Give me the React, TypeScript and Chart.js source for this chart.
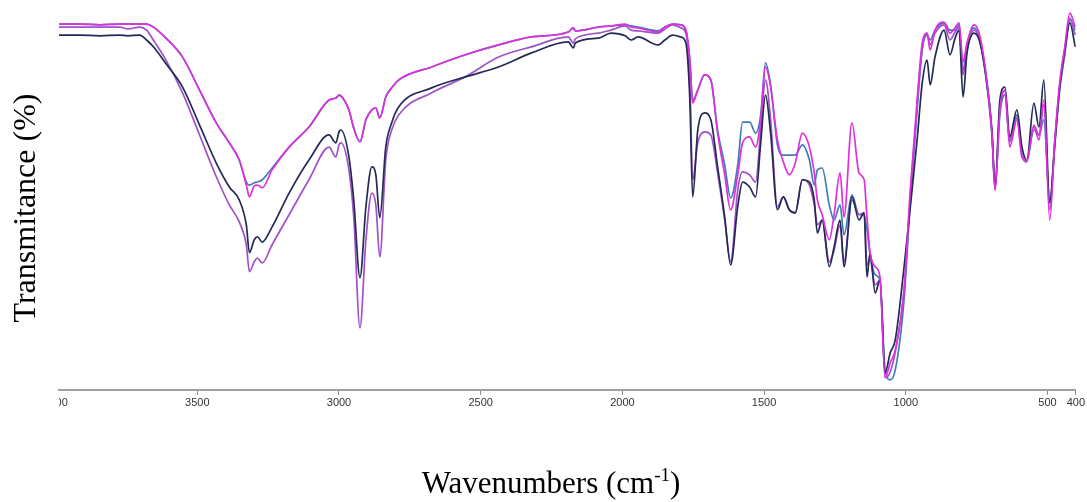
import React, { useEffect, useRef } from "react";
import { Chart, registerables } from "chart.js";

Chart.register(...registerables);

const wavenumbers = [
  3988, 3914, 3844, 3774, 3745, 3703, 3679, 3651, 3615, 3552,
  3492, 3433, 3387, 3352, 3327, 3316, 3299, 3288, 3271, 3236,
  3176, 3106, 3035, 3011, 3000, 2993, 2965, 2948, 2926, 2905,
  2884, 2870, 2856, 2835, 2814, 2789, 2673, 2554, 2437, 2321,
  2191, 2173, 2166, 2085, 2040, 1990, 1969, 1945, 1874, 1850,
  1822, 1794, 1776, 1762, 1752, 1734, 1710, 1688, 1664, 1639,
  1618, 1593, 1576, 1551, 1530, 1512, 1495, 1477, 1453, 1432,
  1411, 1390, 1365, 1340, 1323, 1312, 1295, 1270, 1253, 1232,
  1218, 1190, 1165, 1147, 1137, 1126, 1108, 1091, 1073, 1055,
  1037, 1006, 985, 960, 942, 925, 914, 897, 865, 844,
  826, 812, 798, 784, 759, 741, 720, 696, 685, 668,
  650, 633, 608, 590, 573, 548, 530, 513, 492, 474,
  457, 439, 421, 402,
];

const magentaT = [
  96.3, 96.3, 96.1, 96.3, 96.3, 96.3, 96.3, 95.3, 92.9, 87.6,
  78.9, 70.3, 65.0, 60.5, 53.9, 50.8, 53.7, 53.9, 53.2, 57.9,
  63.9, 69.2, 76.3, 76.8, 77.6, 77.4, 73.7, 68.9, 65.3, 71.1,
  73.7, 74.2, 71.6, 77.1, 79.5, 81.6, 85.0, 88.2, 90.8, 92.9,
  94.2, 95.3, 94.5, 95.5, 95.8, 96.3, 95.5, 95.3, 94.2, 95.5,
  96.3, 96.1, 94.7, 86.8, 75.5, 78.9, 82.9, 81.6, 67.6, 56.6,
  47.4, 56.6, 65.0, 66.6, 63.9, 71.1, 85.0, 79.7, 65.8, 60.0,
  56.6, 59.7, 67.6, 63.9, 57.1, 50.0, 46.1, 39.5, 46.1, 57.1,
  45.5, 70.3, 57.1, 55.3, 45.5, 36.1, 32.4, 29.7, 3.2, 7.1,
  10.5, 26.3, 51.8, 76.3, 91.3, 93.9, 89.5, 94.7, 96.8, 93.9,
  95.3, 96.6, 86.3, 91.3, 96.1, 93.9, 85.0, 67.6, 52.6, 73.7,
  78.9, 63.9, 71.1, 61.3, 60.5, 69.2, 65.8, 76.3, 44.7, 65.8,
  80.8, 90.3, 99.2, 95.5,
];

const blueT = [
  96.3, 96.3, 96.1, 96.3, 96.3, 96.3, 96.3, 95.3, 92.9, 87.6,
  78.9, 70.3, 65.0, 60.5, 54.7, 53.9, 54.5, 54.7, 55.3, 58.4,
  63.9, 69.2, 76.3, 76.8, 77.6, 77.4, 73.7, 68.9, 65.3, 71.1,
  73.7, 74.2, 71.6, 77.1, 79.5, 81.6, 85.0, 88.2, 90.8, 92.9,
  94.2, 95.3, 94.5, 95.5, 95.8, 96.1, 95.8, 95.5, 94.5, 95.5,
  96.3, 96.1, 94.7, 86.8, 76.3, 78.9, 82.9, 81.6, 68.4, 59.2,
  50.5, 59.2, 70.5, 70.5, 67.6, 72.4, 86.1, 80.3, 64.5, 61.8,
  61.8, 61.8, 64.5, 60.5, 53.9, 57.9, 58.4, 48.7, 44.7, 48.7,
  40.8, 51.3, 46.1, 46.1, 42.1, 35.5, 30.3, 28.9, 5.3, 2.6,
  5.3, 23.7, 48.7, 73.7, 89.5, 93.4, 92.1, 94.7, 96.6, 94.7,
  94.7, 96.1, 84.2, 90.8, 95.3, 92.6, 83.7, 67.1, 53.2, 72.4,
  77.6, 65.8, 72.4, 61.8, 60.5, 68.4, 67.1, 71.1, 50.0, 64.5,
  78.9, 88.2, 97.4, 94.7,
];

const navyT = [
  93.4, 93.4, 93.2, 93.4, 93.2, 93.4, 92.1, 90.0, 86.3, 79.7,
  69.7, 59.7, 53.4, 50.0, 43.4, 36.1, 39.5, 40.3, 38.9, 42.9,
  51.8, 60.5, 67.1, 65.0, 67.9, 68.4, 61.3, 50.0, 29.5, 48.2,
  58.7, 56.6, 45.3, 63.9, 70.3, 74.5, 79.5, 82.4, 85.0, 88.7,
  91.6, 90.0, 91.3, 92.6, 93.9, 93.2, 92.1, 92.9, 90.8, 92.1,
  93.4, 92.9, 91.3, 76.3, 50.8, 68.4, 72.9, 71.1, 58.7, 45.5,
  32.9, 48.2, 54.7, 53.4, 50.8, 65.0, 77.6, 67.6, 47.4, 50.8,
  47.4, 46.6, 55.3, 54.7, 50.0, 41.3, 44.7, 32.4, 37.6, 44.7,
  32.4, 50.8, 44.7, 46.6, 29.7, 36.1, 25.5, 28.9, 4.5, 9.7,
  13.2, 32.4, 47.4, 65.8, 80.8, 86.8, 80.3, 87.6, 94.7, 88.2,
  92.6, 94.7, 77.1, 88.7, 93.9, 92.1, 84.2, 68.4, 53.4, 76.3,
  79.7, 66.6, 73.7, 63.9, 60.5, 75.5, 69.2, 81.6, 49.2, 65.0,
  79.7, 89.5, 96.6, 90.3,
];

const purpleT = [
  95.5, 95.5, 95.5, 95.5, 95.0, 95.5, 94.7, 91.6, 87.4, 78.2,
  67.1, 56.1, 48.7, 44.2, 38.2, 31.1, 33.7, 34.7, 33.4, 38.2,
  46.1, 55.3, 63.9, 61.3, 64.5, 65.0, 57.9, 45.5, 16.3, 39.5,
  51.8, 48.7, 35.0, 60.5, 68.4, 72.4, 78.2, 82.4, 87.6, 90.3,
  92.9, 91.3, 92.4, 93.9, 94.7, 95.8, 94.7, 94.5, 93.9, 95.0,
  96.1, 95.3, 93.9, 81.6, 55.3, 65.0, 67.9, 67.1, 57.1, 44.7,
  33.7, 52.6, 57.4, 56.6, 54.7, 68.4, 81.6, 71.1, 48.2, 50.8,
  47.4, 46.6, 55.3, 53.9, 48.7, 43.4, 44.7, 33.7, 36.8, 43.4,
  33.7, 50.0, 46.1, 46.6, 32.9, 34.2, 27.6, 28.9, 3.2, 4.7,
  10.0, 26.3, 50.0, 75.0, 90.0, 93.9, 90.8, 93.9, 96.1, 92.1,
  94.2, 95.5, 82.9, 89.5, 94.7, 92.6, 84.2, 67.6, 52.6, 74.2,
  77.6, 65.3, 71.6, 61.8, 60.0, 69.7, 67.1, 75.0, 47.4, 65.8,
  79.5, 88.9, 97.9, 93.4,
];

const tickValues = [3500, 3000, 2500, 2000, 1500, 1000, 500, 400];
const clippedTick = 4000;

const xTitleMain = "Wavenumbers (cm";
const xTitleSup = "-1";
const xTitleEnd = ")";
const yTitle = "Transmitance (%)";

const series = [
  { label: "Sample 1", values: magentaT, color: "#de30de" },
  { label: "Sample 2", values: navyT, color: "#232a55" },
  { label: "Sample 3", values: purpleT, color: "#a052c8" },
  { label: "Sample 4", values: blueT, color: "#3f7db8" },
];

const tickFont = "'Liberation Sans Narrow', 'Liberation Sans', Arial, sans-serif";
const serif = "'Liberation Serif', 'Times New Roman', serif";

const titlesPlugin = {
  id: "titles",
  afterDraw(chart: any) {
    const ctx = chart.ctx as CanvasRenderingContext2D;
    const xs = chart.scales.x;
    const area = chart.chartArea;
    // first tick label, clipped at the left edge of the axis
    ctx.save();
    ctx.beginPath();
    ctx.rect(area.left, area.bottom, 200, 30);
    ctx.clip();
    ctx.font = `11px ${tickFont}`;
    ctx.fillStyle = "#333";
    ctx.textAlign = "center";
    ctx.textBaseline = "middle";
    ctx.fillText(String(clippedTick), xs.getPixelForValue(clippedTick), 403);
    ctx.restore();

    // y title
    ctx.save();
    ctx.fillStyle = "#000";
    ctx.font = `32px ${serif}`;
    ctx.translate(35, 208);
    ctx.rotate(-Math.PI / 2);
    ctx.textAlign = "center";
    ctx.textBaseline = "alphabetic";
    ctx.fillText(yTitle, 0, 0);
    ctx.restore();

    // x title with superscript
    ctx.save();
    ctx.fillStyle = "#000";
    ctx.textAlign = "left";
    ctx.textBaseline = "alphabetic";
    const mainFont = `31px ${serif}`;
    const supFont = `19px ${serif}`;
    ctx.font = mainFont;
    const w1 = ctx.measureText(xTitleMain).width;
    const w3 = ctx.measureText(xTitleEnd).width;
    ctx.font = supFont;
    const w2 = ctx.measureText(xTitleSup).width;
    const total = w1 + w2 + w3;
    let x = 551 - total / 2;
    const base = 493;
    ctx.font = mainFont;
    ctx.fillText(xTitleMain, x, base);
    x += w1;
    ctx.font = supFont;
    ctx.fillText(xTitleSup, x, base - 12);
    x += w2;
    ctx.font = mainFont;
    ctx.fillText(xTitleEnd, x, base);
    ctx.restore();
  },
};

export default function App() {
  const ref = useRef<HTMLCanvasElement | null>(null);

  useEffect(() => {
    if (!ref.current) return;
    const chart = new Chart(ref.current, {
      type: "line",
      data: {
        datasets: series.map((s) => ({
          label: s.label,
          data: wavenumbers.map((w, i) => ({ x: w, y: s.values[i] })),
          borderColor: s.color,
          backgroundColor: s.color,
          borderWidth: 1.7,
          pointRadius: 0,
          fill: false,
          cubicInterpolationMode: "monotone" as const,
        })),
      },
      options: {
        responsive: false,
        animation: false,
        events: [],
        layout: { padding: { left: 59, right: 11, top: 10, bottom: 90 } },
        plugins: {
          legend: { display: false },
          tooltip: { enabled: false },
          title: { display: false },
        },
        scales: {
          x: {
            type: "linear",
            reverse: true,
            min: 400,
            max: 3988,
            afterBuildTicks: (scale: any) => {
              scale.ticks = tickValues.map((v) => ({ value: v }));
            },
            ticks: {
              autoSkip: false,
              maxRotation: 0,
              padding: 2,
              color: "#333",
              font: { size: 11, family: tickFont },
              callback: (v: any) => String(v),
            },
            grid: {
              drawOnChartArea: false,
              drawTicks: true,
              tickLength: 5,
              color: "#888",
              lineWidth: 1,
            },
            border: { display: true, color: "#a0a0a0", width: 2 },
          },
          y: {
            display: false,
            min: 0,
            max: 100,
          },
        },
      },
      plugins: [titlesPlugin],
    });
    return () => chart.destroy();
  }, []);

  return (
    <div style={{ position: "fixed", left: 0, top: 0, width: 1087, height: 502, background: "#fff" }}>
      <canvas ref={ref} width={1087} height={502} />
    </div>
  );
}
